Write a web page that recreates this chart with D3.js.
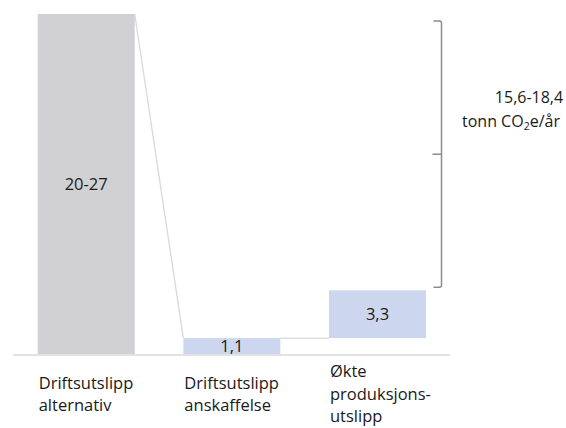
<!DOCTYPE html>
<html>
<head>
<meta charset="utf-8">
<script src="https://cdn.jsdelivr.net/npm/d3@7"></script>
<style>
  html, body { margin: 0; padding: 0; background: #fff; }
  svg { display: block; }
  text { font-family: "Open Sans", "Lato", sans-serif; fill: #1a1a1a; }
</style>
</head>
<body>
<svg id="chart" width="566" height="428"></svg>
<script>
// Waterfall: operating emissions, alternative vs. procurement, plus added production emissions
const categories = ["alternativ", "anskaffelse", "produksjon"];
const categoryLabels = [
  ["Driftsutslipp", "alternativ"],
  ["Driftsutslipp", "anskaffelse"],
  ["Økte", "produksjons-", "utslipp"]
];
const altRange = [20, 27];          // tonn CO2e/år, shown as a range
const barValues = [(altRange[0] + altRange[1]) / 2, 1.1, 3.3];
const barStarts = [0, 0, 1.1];      // bar 3 floats on top of bar 2
const valueLabels = ["20-27", "1,1", "3,3"];
const savingRange = ["15,6-18,4"];
const barColors = ["#d1d1d3", "#ccd7ef", "#ccd7ef"];

const svg = d3.select("#chart");

const x = d3.scaleBand()
  .domain(categories)
  .range([37.7, 426])
  .paddingInner(0.334)
  .paddingOuter(0);

const y = d3.scaleLinear()
  .domain([0, barValues[0]])
  .range([354, 14]);

// baseline
svg.append("line")
  .attr("x1", 13).attr("x2", 450)
  .attr("y1", y(0) + 1).attr("y2", y(0) + 1)
  .attr("stroke", "#d9d9d9").attr("stroke-width", 1.5);

// connectors between bars
const conn = svg.append("g").attr("stroke", "#d9d9d9").attr("stroke-width", 1.3).attr("fill", "none");
conn.append("line")
  .attr("x1", x(categories[0]) + x.bandwidth()).attr("y1", y(barValues[0]))
  .attr("x2", x(categories[1])).attr("y2", y(barValues[1]));
conn.append("line")
  .attr("x1", x(categories[1]) + x.bandwidth()).attr("y1", y(barStarts[2]))
  .attr("x2", x(categories[2])).attr("y2", y(barStarts[2]));

// bars
svg.append("g").selectAll("rect")
  .data(categories)
  .join("rect")
  .attr("x", d => x(d))
  .attr("width", x.bandwidth())
  .attr("y", (d, i) => y(barStarts[i] + barValues[i]))
  .attr("height", (d, i) => y(barStarts[i]) - y(barStarts[i] + barValues[i]))
  .attr("fill", (d, i) => barColors[i]);

// value labels
svg.append("g").selectAll("text")
  .data(categories)
  .join("text")
  .attr("x", d => x(d) + x.bandwidth() / 2)
  .attr("y", (d, i) => (y(barStarts[i]) + y(barStarts[i] + barValues[i])) / 2)
  .attr("dy", "0.36em")
  .attr("text-anchor", "middle")
  .attr("font-size", 16.5)
  .text((d, i) => valueLabels[i]);

// category labels, vertically centred under the baseline
const lineH = 22.5, labelMid = 394;
categories.forEach((c, i) => {
  const lines = categoryLabels[i];
  const t = svg.append("text")
    .attr("font-size", 16.5)
    .attr("x", x(c) + 1);
  lines.forEach((s, j) => {
    t.append("tspan")
      .attr("x", x(c) + 1)
      .attr("y", labelMid + (j - (lines.length - 1) / 2) * lineH)
      .attr("dy", "0.36em")
      .text(s);
  });
});

// bracket spanning the saving
const bx = 441.5, bTop = y(barValues[0]) + 7, bBot = y(barStarts[2] + barValues[2]) - 3, hook = 8, r = 2;
const bMid = (bTop + bBot) / 2;
svg.append("path")
  .attr("d", `M${bx - hook},${bTop} H${bx - r} Q${bx},${bTop} ${bx},${bTop + r} V${bBot - r} Q${bx},${bBot} ${bx - r},${bBot} H${bx - hook}
              M${bx},${bMid} H${bx - 9}`)
  .attr("fill", "none")
  .attr("stroke", "#8c8c8c")
  .attr("stroke-width", 1.5);

const note = svg.append("text")
  .attr("font-size", 16);
note.append("tspan").attr("x", 529).attr("y", 103).attr("text-anchor", "middle").text(savingRange[0]);
const l2 = note.append("tspan").attr("x", 462).attr("y", 127).text("tonn CO");
note.append("tspan").attr("font-size", 10.5).attr("dy", 3).text("2");
note.append("tspan").attr("dy", -3).text("e/år");
</script>
</body>
</html>
